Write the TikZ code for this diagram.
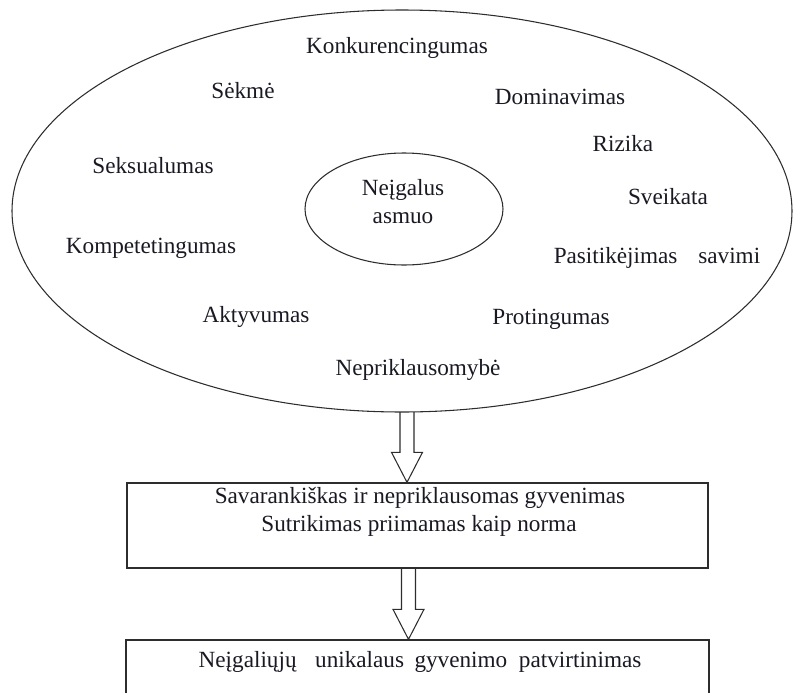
\documentclass[tikz,border=0pt]{standalone}
\usepackage{fontspec}
\setmainfont{Liberation Serif}
\usetikzlibrary{shapes.geometric,calc}
\definecolor{ink}{RGB}{25,25,35}
\definecolor{edge}{RGB}{45,45,45}
% hollow block arrow from a start point (#1) down to a tip (#2)
\newcommand\blockarrow[2]{%
  \draw[hollow] ($(#1)+(-7,0)$) -- ($(#2)+(-7,-30)$) -- ($(#2)+(-15.5,-30)$)
    -- (#2) -- ($(#2)+(15.5,-30)$) -- ($(#2)+(7,-30)$) -- ($(#1)+(7,0)$);}
\begin{document}
\begin{tikzpicture}[x=0.75pt,y=-0.75pt,
  word/.style={font=\fontsize{17.4}{21}\selectfont, text=ink, inner sep=0pt, anchor=base},
  ring/.style={ellipse, draw=edge, line width=0.8pt, inner sep=0pt},
  panel/.style={draw=edge, line width=1pt, inner sep=0pt, fill=white},
  hollow/.style={draw=edge, line width=0.8pt, line join=miter}]
\useasboundingbox (0,0) rectangle (794,693);
\clip (0,0) rectangle (794,693);

% outer field of traits and the person in its centre
\node[ring, minimum width=585pt, minimum height=301.5pt] (outer) at (402,211) {};
\node[ring, minimum width=148.5pt, minimum height=84pt] (inner) at (404,209) {};
\node[word] (p1) at (403,195) {Neįgalus};
\node[word] (p2) at (403,223) {asmuo};

% traits
\node[word] (t1)  at (397,53)  {Konkurencingumas};
\node[word] (t2)  at (243,98)  {Sėkmė};
\node[word] (t3)  at (560,104) {Dominavimas};
\node[word] (t4)  at (623,151) {Rizika};
\node[word] (t5)  at (153,173) {Seksualumas};
\node[word] (t6)  at (668,204) {Sveikata};
\node[word] (t7)  at (151,253) {Kompetetingumas};
\node[word] (t8)  at (657,263) {Pasitikėjimas\hspace{0.9em}savimi};
\node[word] (t9)  at (256,322) {Aktyvumas};
\node[word] (t10) at (551,324) {Protingumas};
\node[word] (t11) at (418,375) {Nepriklausomybė};

% result boxes
\node[panel, minimum width=435.75pt, minimum height=63.75pt] (box1) at (417.5,525.5) {};
\node[word] (b1a) at (420,503) {Savarankiškas ir nepriklausomas gyvenimas};
\node[word] (b1b) at (419,531) {Sutrikimas priimamas kaip norma};

\node[panel, minimum width=437.25pt, minimum height=60pt] (box2) at (417.5,680) {};
\node[word] (b2a) at (420,667) {Neįgaliųjų\hspace{0.8em}unikalaus\hspace{0.45em}gyvenimo\hspace{0.5em}patvirtinimas};

% arrows between the stages
\coordinate (a1s) at (407,412);
\coordinate (a1t) at (box1.north -| a1s);
\blockarrow{a1s}{a1t}
\coordinate (a2s) at (box1.south -| 408.5,0);
\coordinate (a2t) at (box2.north -| a2s);
\blockarrow{a2s}{a2t}
\end{tikzpicture}
\end{document}
